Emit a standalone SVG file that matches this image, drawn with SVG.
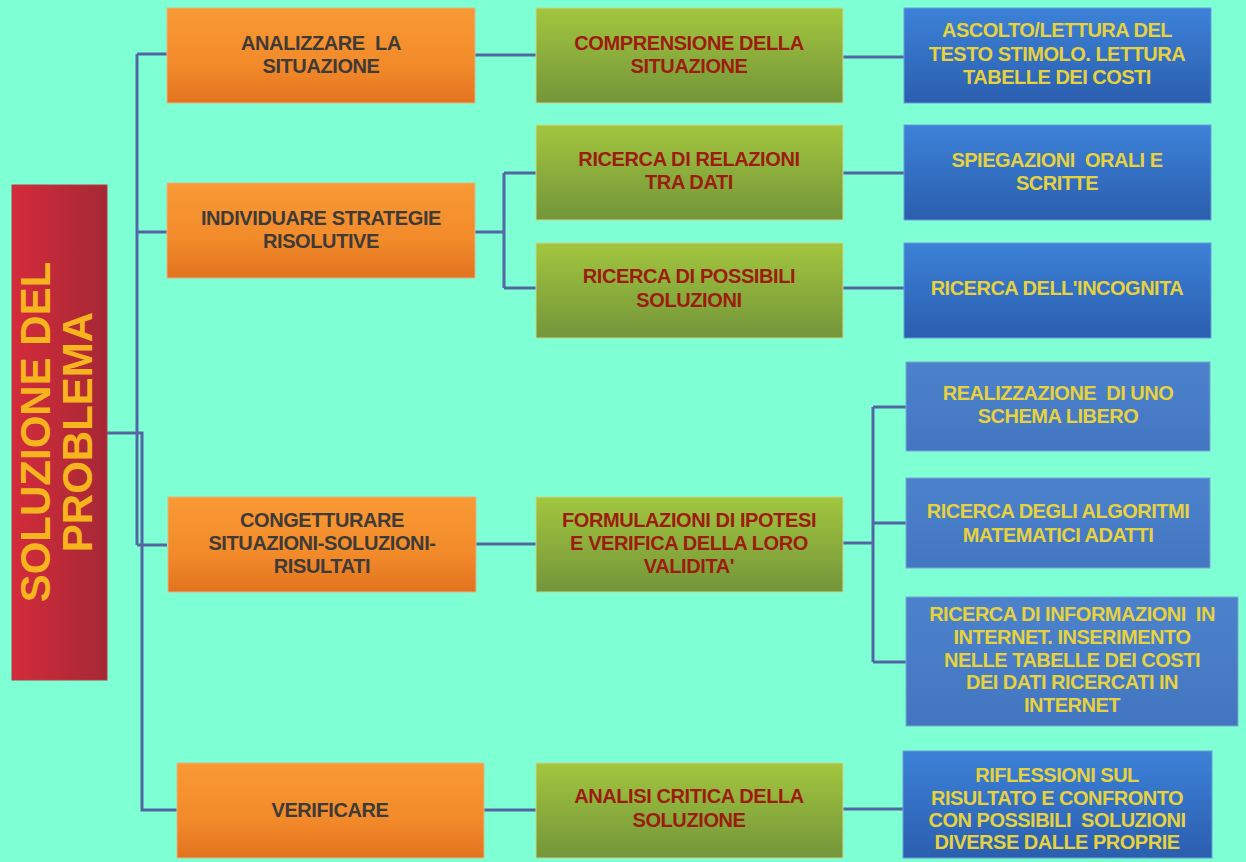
<svg xmlns="http://www.w3.org/2000/svg" width="1246" height="862" viewBox="0 0 1246 862">
<defs>
<linearGradient id="gRoot" x1="0" y1="0" x2="1" y2="0"><stop offset="0" stop-color="#D42B3C"/><stop offset="1" stop-color="#A52834"/></linearGradient>
<linearGradient id="gOr" x1="0" y1="0" x2="0" y2="1"><stop offset="0" stop-color="#F99A34"/><stop offset="0.6" stop-color="#F28A2A"/><stop offset="1" stop-color="#E2731F"/></linearGradient>
<linearGradient id="gGr" x1="0" y1="0" x2="0" y2="1"><stop offset="0" stop-color="#A2C63E"/><stop offset="1" stop-color="#74953A"/></linearGradient>
<linearGradient id="gBl" x1="0" y1="0" x2="0" y2="1"><stop offset="0" stop-color="#3C82D8"/><stop offset="1" stop-color="#2B5EAE"/></linearGradient>
<linearGradient id="gBl2" x1="0" y1="0" x2="0" y2="1"><stop offset="0" stop-color="#4C82CC"/><stop offset="1" stop-color="#4376C0"/></linearGradient>
</defs>
<style>
.or{fill:url(#gOr);stroke:#E4B48A;stroke-width:1}
.gr{fill:url(#gGr);stroke:#C8D890;stroke-width:1}
.bl{fill:url(#gBl);stroke:#6F9AD8;stroke-width:1}
.bl2{fill:url(#gBl2);stroke:#7FA5D8;stroke-width:1}
text{font-family:"Liberation Sans",Arial,sans-serif;font-weight:bold;text-anchor:middle;white-space:pre}
.to{fill:#3E3A38;font-size:20px;letter-spacing:-0.4px}
.tg{fill:#9C1C10;font-size:20px;letter-spacing:-0.4px}
.tb{fill:#E6D23E;font-size:20px;letter-spacing:-0.5px}
.tr{fill:#F6B41E;font-size:42px}
.c{fill:none;stroke:#5266A2;stroke-width:3}
</style>
<rect width="1246" height="862" fill="#7FFFD4"/>
<g id="connectors">
<path class="c" d="M137,54V545M137,54H167M137,232H167M137,545H167"/>
<path class="c" d="M107,433H142V810H177"/>
<path class="c" d="M475,55H536M843,57H904"/>
<path class="c" d="M475,232H504M504,173V288M504,173H536M504,288H536"/>
<path class="c" d="M843,173H904M843,288H904"/>
<path class="c" d="M476,544H536"/>
<path class="c" d="M843,543H873M873,407V662M873,407H906M873,523H906M873,662H906"/>
<path class="c" d="M484,810H536M843,809H903"/>
</g>
<g id="root">
<rect x="12" y="185" width="95" height="495" fill="url(#gRoot)" stroke="#B83A44"/>
<text class="tr" transform="translate(50,432) rotate(-90)">SOLUZIONE DEL</text>
<text class="tr" transform="translate(92,432) rotate(-90)">PROBLEMA</text>
</g>
<g id="o1"><rect class="or" x="167" y="8" width="308" height="95"/><text class="to" x="321" y="50" xml:space="preserve">ANALIZZARE  LA</text><text class="to" x="321" y="73">SITUAZIONE</text></g>
<g id="o2"><rect class="or" x="167" y="183" width="308" height="95"/><text class="to" x="321" y="225">INDIVIDUARE STRATEGIE</text><text class="to" x="321" y="248">RISOLUTIVE</text></g>
<g id="o3"><rect class="or" x="168" y="497" width="308" height="95"/><text class="to" x="322" y="527">CONGETTURARE</text><text class="to" x="322" y="550">SITUAZIONI-SOLUZIONI-</text><text class="to" x="322" y="573">RISULTATI</text></g>
<g id="o4"><rect class="or" x="177" y="763" width="307" height="95"/><text class="to" x="330" y="817">VERIFICARE</text></g>
<g id="g1"><rect class="gr" x="536" y="8" width="307" height="95"/><text class="tg" x="689" y="50">COMPRENSIONE DELLA</text><text class="tg" x="689" y="73">SITUAZIONE</text></g>
<g id="g2"><rect class="gr" x="536" y="125" width="307" height="95"/><text class="tg" x="689" y="166">RICERCA DI RELAZIONI</text><text class="tg" x="689" y="189">TRA DATI</text></g>
<g id="g3"><rect class="gr" x="536" y="243" width="307" height="95"/><text class="tg" x="689" y="283">RICERCA DI POSSIBILI</text><text class="tg" x="689" y="307">SOLUZIONI</text></g>
<g id="g4"><rect class="gr" x="536" y="497" width="307" height="95"/><text class="tg" x="689" y="527">FORMULAZIONI DI IPOTESI</text><text class="tg" x="689" y="550">E VERIFICA DELLA LORO</text><text class="tg" x="689" y="573">VALIDITA'</text></g>
<g id="g5"><rect class="gr" x="536" y="763" width="307" height="95"/><text class="tg" x="689" y="803">ANALISI CRITICA DELLA</text><text class="tg" x="689" y="827">SOLUZIONE</text></g>
<g id="b1"><rect class="bl" x="904" y="8" width="307" height="95"/><text class="tb" x="1057" y="37">ASCOLTO/LETTURA DEL</text><text class="tb" x="1057" y="61">TESTO STIMOLO. LETTURA</text><text class="tb" x="1057" y="84">TABELLE DEI COSTI</text></g>
<g id="b2"><rect class="bl" x="904" y="125" width="307" height="95"/><text class="tb" x="1057" y="167" xml:space="preserve">SPIEGAZIONI  ORALI E</text><text class="tb" x="1057" y="190">SCRITTE</text></g>
<g id="b3"><rect class="bl" x="904" y="243" width="307" height="95"/><text class="tb" x="1057" y="295">RICERCA DELL'INCOGNITA</text></g>
<g id="b4"><rect class="bl2" x="906" y="362" width="304" height="89"/><text class="tb" x="1058" y="400" xml:space="preserve">REALIZZAZIONE  DI UNO</text><text class="tb" x="1058" y="423">SCHEMA LIBERO</text></g>
<g id="b5"><rect class="bl2" x="906" y="478" width="304" height="90"/><text class="tb" x="1058" y="518">RICERCA DEGLI ALGORITMI</text><text class="tb" x="1058" y="542">MATEMATICI ADATTI</text></g>
<g id="b6"><rect class="bl2" x="906" y="597" width="332" height="129"/><text class="tb" x="1072" y="621" xml:space="preserve">RICERCA DI INFORMAZIONI  IN</text><text class="tb" x="1072" y="644">INTERNET. INSERIMENTO</text><text class="tb" x="1072" y="667">NELLE TABELLE DEI COSTI</text><text class="tb" x="1072" y="689">DEI DATI RICERCATI IN</text><text class="tb" x="1072" y="712">INTERNET</text></g>
<g id="b7"><rect class="bl" x="903" y="751" width="309" height="107"/><text class="tb" x="1057" y="782">RIFLESSIONI SUL</text><text class="tb" x="1057" y="805">RISULTATO E CONFRONTO</text><text class="tb" x="1057" y="827" xml:space="preserve">CON POSSIBILI  SOLUZIONI</text><text class="tb" x="1057" y="849">DIVERSE DALLE PROPRIE</text></g>
</svg>
